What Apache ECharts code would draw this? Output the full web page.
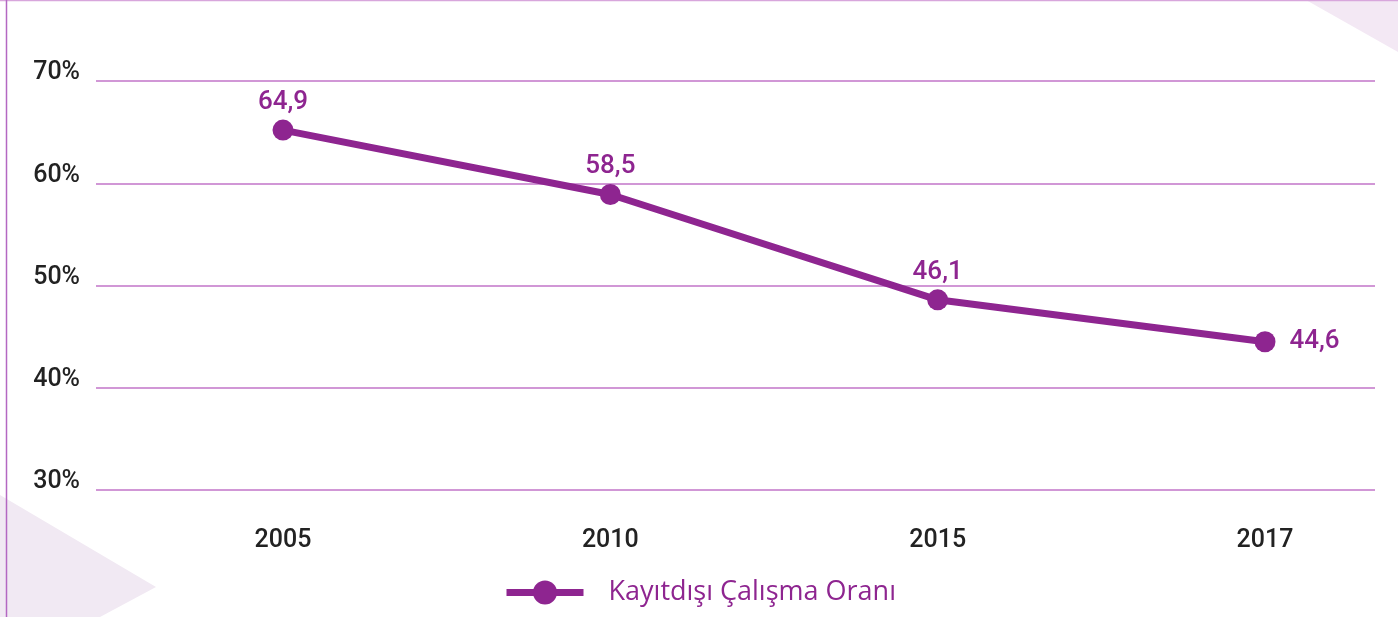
<!DOCTYPE html>
<html><head><meta charset="utf-8">
<script src="https://cdn.jsdelivr.net/npm/echarts@6/dist/echarts.min.js"></script>
<style>html,body{margin:0;padding:0;background:#fff}#c{width:1398px;height:617px}</style>
</head><body><div id="c"></div>
<script>
const categories = ['2005', '2010', '2015', '2017'];
const values = [65.2, 58.9, 48.6, 44.5];
const valueLabels = ['64,9', '58,5', '46,1', '44,6'];
const yTicks = [30, 40, 50, 60, 70];
const seriesName = 'Kayıtdışı Çalışma Oranı';

const purple = '#8e2590';
const font = 'Roboto, "DejaVu Sans", sans-serif';
const chart = echarts.init(document.getElementById('c'));
chart.setOption({
  animation: false,
  graphic: [
    { type: 'polygon', shape: { points: [[1306, 0], [1398, 0], [1398, 52]] }, style: { fill: '#f3e8f4' }, silent: true },
    { type: 'polygon', shape: { points: [[0, 495], [156, 587], [100, 617], [0, 617]] }, style: { fill: '#f1e9f3' }, silent: true },
    { type: 'line', shape: { x1: 0, y1: 0.5, x2: 1398, y2: 0.5 }, style: { stroke: '#d8a6dc', lineWidth: 1.5 }, silent: true },
    { type: 'line', shape: { x1: 6.5, y1: 0, x2: 6.5, y2: 617 }, style: { stroke: '#b468c2', lineWidth: 1.5 }, silent: true }
  ],
  grid: [
    { left: 96, right: 23, top: 81, bottom: 127 },
    { left: 283, right: 133, top: 81, bottom: 127 }
  ],
  xAxis: [
    { gridIndex: 0, type: 'value', min: 0, max: 1, show: false },
    { gridIndex: 1, type: 'category', data: categories, boundaryGap: false,
      axisLine: { show: false }, axisTick: { show: false },
      axisLabel: { color: '#222', fontSize: 25, fontWeight: 500, fontFamily: font, margin: 38 } }
  ],
  yAxis: [
    { gridIndex: 0, type: 'value', min: yTicks[0], max: yTicks[yTicks.length - 1], interval: 10,
      axisLine: { show: false }, axisTick: { show: false },
      axisLabel: { color: '#222', fontSize: 25, fontWeight: 500, fontFamily: font, margin: 16, formatter: '{value}%', verticalAlign: 'bottom', lineHeight: 16 },
      splitLine: { lineStyle: { color: '#c274c8', width: 1.5 } } },
    { gridIndex: 1, type: 'value', min: yTicks[0], max: yTicks[yTicks.length - 1], show: false, splitLine: { show: false } }
  ],
  legend: {
    data: [seriesName], left: 498, top: 574, itemWidth: 77, itemHeight: 30, itemGap: 10,
    lineStyle: { width: 7 },
    textStyle: { color: purple, fontSize: 27, fontWeight: 500, fontFamily: '"Open Sans", Roboto, sans-serif', padding: [0, 0, 0, 20] }
  },
  series: [{
    name: seriesName, type: 'line', xAxisIndex: 1, yAxisIndex: 1,
    data: values.map((v, i) => ({
      value: v,
      label: i === values.length - 1 ? { position: 'right', distance: 14 } : { position: 'top', distance: 4 }
    })),
    symbol: 'circle', symbolSize: 21,
    lineStyle: { color: purple, width: 7 },
    itemStyle: { color: purple },
    label: { show: true, color: purple, fontSize: 26, fontWeight: 500, fontFamily: font,
      formatter: p => valueLabels[p.dataIndex] }
  }]
});
</script></body></html>
